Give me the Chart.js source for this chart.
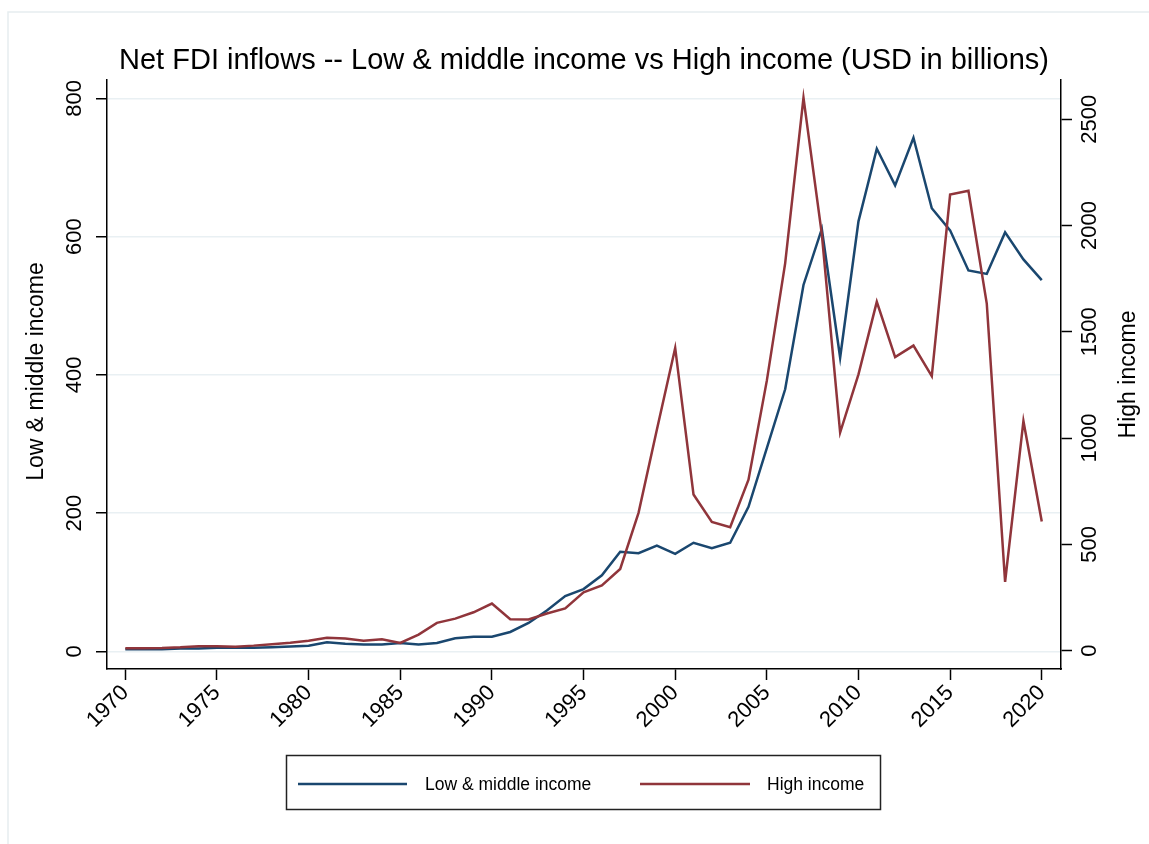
<!DOCTYPE html>
<html>
<head>
<meta charset="utf-8">
<title>Net FDI inflows</title>
<script src="https://cdn.jsdelivr.net/npm/chart.js@4.4.0/dist/chart.umd.min.js"></script>
<style>
  html, body { margin: 0; padding: 0; background: #fff; }
  #wrap { width: 1149px; height: 844px; }
</style>
</head>
<body>
<div id="wrap"><canvas id="fdiChart" width="1149" height="844"></canvas></div>
<script>
// Data (USD billions)
const years = [
    1970, 1971, 1972, 1973, 1974, 1975, 1976, 1977, 1978, 1979,
    1980, 1981, 1982, 1983, 1984, 1985, 1986, 1987, 1988, 1989,
    1990, 1991, 1992, 1993, 1994, 1995, 1996, 1997, 1998, 1999,
    2000, 2001, 2002, 2003, 2004, 2005, 2006, 2007, 2008, 2009,
    2010, 2011, 2012, 2013, 2014, 2015, 2016, 2017, 2018, 2019, 2020
];
const lowMiddle = [
    3, 3, 3, 4, 4, 5, 5, 5, 6, 7,
    8, 13, 11, 10, 10, 12, 10, 12, 19, 21,
    21, 28, 41, 59, 80, 90, 110, 144, 142, 153,
    141, 157, 149, 157, 209, 294, 379, 530, 611, 425,
    622, 727, 674, 743, 641, 609, 551, 546, 606, 567, 537
];
const highIncome = [
    11, 11, 12, 15, 20, 20, 18, 23, 30, 37,
    46, 60, 56, 46, 53, 36, 75, 130, 150, 180,
    221, 147, 146, 174, 198, 274, 306, 384, 648, 1039,
    1424, 734, 605, 580, 804, 1270, 1822, 2601, 1960, 1026,
    1300, 1641, 1381, 1435, 1291, 2146, 2164, 1633, 323, 1080, 607
];

const xTicks = [1970, 1975, 1980, 1985, 1990, 1995, 2000, 2005, 2010, 2015, 2020];
const leftTicks = [0, 200, 400, 600, 800];
const rightTicks = [0, 500, 1000, 1500, 2000, 2500];

const titleText = 'Net FDI inflows -- Low & middle income vs High income (USD in billions)';
const leftTitle = 'Low & middle income';
const rightTitle = 'High income';

const FONT = '"Liberation Sans", Arial, Helvetica, sans-serif';
const BLUE = '#1a476f';
const RED = '#90353b';

// Draws the Stata-like extras: frame, title, rotated y labels, axis titles, legend
const decor = {
    id: 'decor',
    beforeDraw(chart) {
        const ctx = chart.ctx;
        const area = chart.chartArea;
        ctx.save();
        ctx.strokeStyle = '#e6edf0';
        ctx.lineWidth = 1.5;
        ctx.beginPath();
        ctx.moveTo(8, 844);
        ctx.lineTo(8, 12);
        ctx.lineTo(1149, 12);
        ctx.stroke();

        ctx.fillStyle = '#000';
        ctx.font = '29px ' + FONT;
        ctx.textAlign = 'center';
        ctx.textBaseline = 'alphabetic';
        ctx.fillText(titleText, (area.left + area.right) / 2, 69);
        ctx.restore();
    },
    afterDraw(chart) {
        const ctx = chart.ctx;
        const area = chart.chartArea;
        const midY = (area.top + area.bottom) / 2;

        const vText = (text, x, y, font) => {
            ctx.save();
            ctx.translate(x, y);
            ctx.rotate(-Math.PI / 2);
            ctx.font = font;
            ctx.fillStyle = '#000';
            ctx.textAlign = 'center';
            ctx.textBaseline = 'middle';
            ctx.fillText(text, 0, 0);
            ctx.restore();
        };

        const yl = chart.scales.y;
        yl.ticks.forEach(t => vText(String(t.value), 75, yl.getPixelForValue(t.value), '22px ' + FONT));
        const yr = chart.scales.y2;
        yr.ticks.forEach(t => vText(String(t.value), 1090, yr.getPixelForValue(t.value), '22px ' + FONT));

        vText(leftTitle, 37, midY - 3, '23px ' + FONT);
        vText(rightTitle, 1129, midY, '23px ' + FONT);

        // legend
        ctx.save();
        ctx.strokeStyle = '#222';
        ctx.lineWidth = 1.5;
        ctx.strokeRect(286.5, 755.5, 594, 54);
        const ly = 785;
        const items = [
            { x1: 298, x2: 407, tx: 425 },
            { x1: 640, x2: 750, tx: 767 }
        ];
        chart.data.datasets.forEach((ds, i) => {
            const it = items[i];
            ctx.strokeStyle = ds.borderColor;
            ctx.lineWidth = 2.5;
            ctx.beginPath();
            ctx.moveTo(it.x1, ly - 1);
            ctx.lineTo(it.x2, ly - 1);
            ctx.stroke();
            ctx.fillStyle = '#000';
            ctx.font = '17.5px ' + FONT;
            ctx.textAlign = 'left';
            ctx.textBaseline = 'middle';
            ctx.fillText(ds.label, it.tx, ly);
        });
        ctx.restore();
    }
};

const setTicks = (list) => (scale) => {
    scale.ticks = list.map(v => ({ value: v }));
};

const chart = new Chart(document.getElementById('fdiChart'), {
    type: 'line',
    data: {
        datasets: [
            {
                label: leftTitle,
                data: years.map((yr, i) => ({ x: yr, y: lowMiddle[i] })),
                borderColor: BLUE,
                borderWidth: 2.5,
                pointRadius: 0,
                tension: 0,
                yAxisID: 'y',
                order: 2
            },
            {
                label: rightTitle,
                data: years.map((yr, i) => ({ x: yr, y: highIncome[i] })),
                borderColor: RED,
                borderWidth: 2.5,
                pointRadius: 0,
                tension: 0,
                yAxisID: 'y2',
                order: 1
            }
        ]
    },
    options: {
        responsive: false,
        devicePixelRatio: 1,
        animation: false,
        layout: { padding: { top: 80, left: 0, right: 0, bottom: 0 } },
        plugins: {
            legend: { display: false },
            title: { display: false },
            tooltip: { enabled: false }
        },
        scales: {
            x: {
                type: 'linear',
                min: 1969,
                max: 2021.05,
                afterBuildTicks: setTicks(xTicks),
                afterFit(scale) { scale.height = 175; },
                grid: {
                    drawOnChartArea: false,
                    tickLength: 11,
                    tickColor: '#000',
                    tickWidth: 1.5
                },
                border: { display: true, color: '#000', width: 1.5 },
                ticks: {
                    color: '#000',
                    font: { family: FONT, size: 22 },
                    minRotation: 45,
                    maxRotation: 45,
                    padding: 0,
                    callback: v => String(v)
                }
            },
            y: {
                position: 'left',
                min: -25.6,
                max: 826.5,
                afterBuildTicks: setTicks(leftTicks),
                afterFit(scale) { scale.width = 107; },
                grid: {
                    color: '#e9f0f3',
                    lineWidth: 1.5,
                    tickLength: 11,
                    tickColor: '#000',
                    tickWidth: 1.5
                },
                border: { display: true, color: '#000', width: 1.5 },
                ticks: { display: false }
            },
            y2: {
                position: 'right',
                min: -87,
                max: 2685,
                afterBuildTicks: setTicks(rightTicks),
                afterFit(scale) { scale.width = 88; },
                grid: {
                    drawOnChartArea: false,
                    tickLength: 11,
                    tickColor: '#000',
                    tickWidth: 1.5
                },
                border: { display: true, color: '#000', width: 1.5 },
                ticks: { display: false }
            }
        }
    },
    plugins: [decor]
});
</script>
</body>
</html>
